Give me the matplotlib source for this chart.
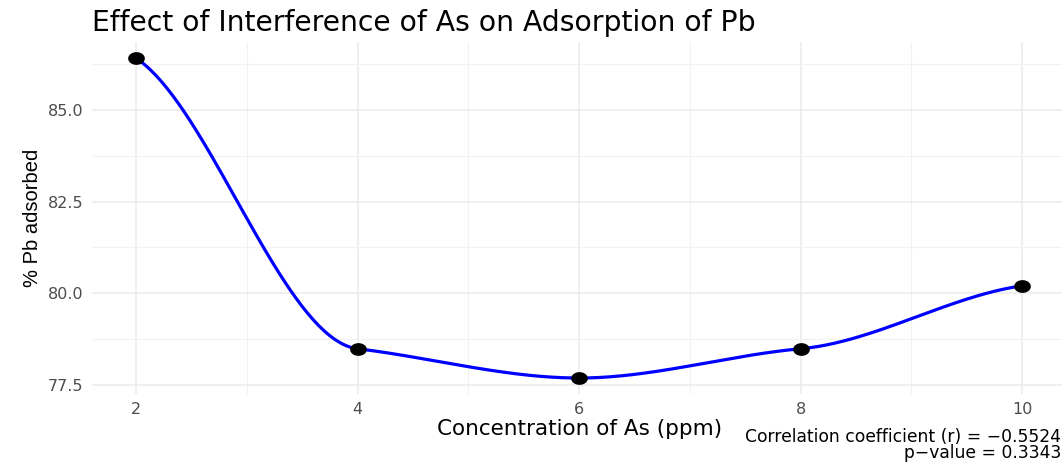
import matplotlib
matplotlib.use("Agg")
import matplotlib.pyplot as plt
from matplotlib.path import Path
import numpy as np

plt.rcParams['font.family'] = ['DejaVu Sans']

# data
conc_as = [2, 4, 6, 8, 10]
pb_adsorbed = [86.42, 78.48, 77.68, 78.48, 80.2]
y_ticks = [77.5, 80.0, 82.5, 85.0]
x_ticks = [2, 4, 6, 8, 10]
r_value = -0.5524
p_value = 0.3343

# smooth curve through the points (cubic hermite, damped tangents)
x = np.array(conc_as, dtype=float)
y = np.array(pb_adsorbed, dtype=float)
d = np.diff(y) / np.diff(x)
m = np.zeros_like(y)
for i in range(1, len(x) - 1):
    if d[i - 1] * d[i] > 0:
        m[i] = 0.5 * 2 / (1 / d[i - 1] + 1 / d[i])
m[0] = 0.5 * d[0]
m[-1] = 0.5 * d[-1]
xs, ys = [], []
for i in range(len(x) - 1):
    h = x[i + 1] - x[i]
    t = np.linspace(0, 1, 80)
    h00 = 2 * t**3 - 3 * t**2 + 1
    h10 = t**3 - 2 * t**2 + t
    h01 = -2 * t**3 + 3 * t**2
    h11 = t**3 - t**2
    xs.append(x[i] + t * h)
    ys.append(h00 * y[i] + h10 * h * m[i] + h01 * y[i + 1] + h11 * h * m[i + 1])
xs = np.concatenate(xs)
ys = np.concatenate(ys)

fig = plt.figure(figsize=(10.62, 4.63), dpi=100)
ax = fig.add_axes([0.0863, 0.149, 0.918, 0.760])

ax.plot(xs, ys, color='#0000FF', lw=2.3, zorder=3)
t = np.linspace(0, 2 * np.pi, 60)
ell = Path(np.column_stack([1.35 * np.cos(t), np.sin(t)]))
ax.plot(conc_as, pb_adsorbed, linestyle='none', marker=ell, markersize=11,
        color='black', zorder=4)

xr = max(conc_as) - min(conc_as)
yr = max(pb_adsorbed) - min(pb_adsorbed)
ax.set_xlim(min(conc_as) - 0.05 * xr, max(conc_as) + 0.05 * xr)
ax.set_ylim(min(pb_adsorbed) - 0.05 * yr, max(pb_adsorbed) + 0.05 * yr)

ax.set_xticks(x_ticks)
ax.set_xticks([3, 5, 7, 9], minor=True)
ax.set_yticks(y_ticks)
ax.set_yticks([78.75, 81.25, 83.75, 86.25], minor=True)
ax.set_yticklabels([f"{v:.1f}" for v in y_ticks])
ax.grid(which='major', color='#EBEBEB', lw=1.1)
ax.grid(which='minor', color='#F2F2F2', lw=0.8)
ax.set_axisbelow(True)
for s in ax.spines.values():
    s.set_visible(False)
ax.tick_params(which='both', length=0, labelsize=11.5, labelcolor='#4D4D4D', pad=6)

ax.set_xlabel('Concentration of As (ppm)', fontsize=15.5, labelpad=1)
ax.set_ylabel('% Pb adsorbed', fontsize=14.5, labelpad=4,
              family=['Liberation Sans Narrow', 'Liberation Sans', 'DejaVu Sans'])
fig.text(0.087, 0.950, 'Effect of Interference of As on Adsorption of Pb',
         fontsize=20.3, ha='left', va='center')
fig.text(0.999, 0.002,
         f"Correlation coefficient (r) = \u2212{abs(r_value):.4f}\np\u2212value = {p_value:.4f}",
         fontsize=12.3, ha='right', va='bottom', multialignment='right',
         linespacing=0.85)

fig.savefig('out.png', dpi=100)
